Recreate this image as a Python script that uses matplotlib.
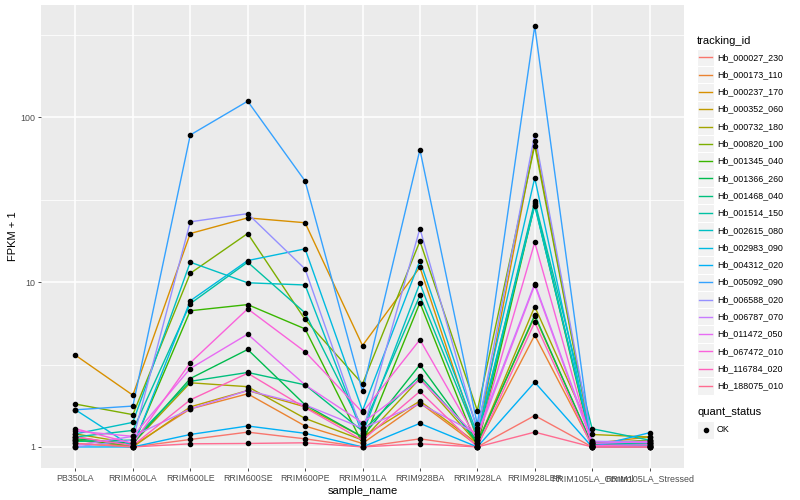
import numpy as np
import matplotlib
matplotlib.use("Agg")
import matplotlib.pyplot as plt
from matplotlib.patches import Rectangle
from matplotlib.lines import Line2D

plt.rcParams['font.family'] = ['Liberation Sans', 'DejaVu Sans']

samples = ['PB350LA', 'RRIM600LA', 'RRIM600LE', 'RRIM600SE', 'RRIM600PE',
           'RRIM901LA', 'RRIM928BA', 'RRIM928LA', 'RRIM928LER',
           'RRIM105LA_Control', 'RRIM105LA_Stressed']

tracking_ids = ['Hb_000027_230', 'Hb_000173_110', 'Hb_000237_170', 'Hb_000352_060',
                'Hb_000732_180', 'Hb_000820_100', 'Hb_001345_040', 'Hb_001366_260',
                'Hb_001468_040', 'Hb_001514_150', 'Hb_002615_080', 'Hb_002983_090',
                'Hb_004312_020', 'Hb_005092_090', 'Hb_006588_020', 'Hb_006787_070',
                'Hb_011472_050', 'Hb_067472_010', 'Hb_116784_020', 'Hb_188075_010']

# FPKM + 1, one list per gene, in sample order
hb_000027_230 = [1.10, 1.00, 1.11, 1.23, 1.12, 1.00, 1.12, 1.00, 1.55, 1.00, 1.00]
hb_000173_110 = [1.15, 1.02, 1.70, 2.10, 1.34, 1.05, 1.85, 1.02, 4.76, 1.02, 1.05]
hb_000237_170 = [3.60, 2.06, 19.7, 24.5, 22.9, 4.12, 12.3, 1.10, 71.5, 1.05, 1.15]
hb_000352_060 = [1.05, 1.00, 1.75, 2.20, 1.75, 1.15, 1.90, 1.05, 6.20, 1.03, 1.05]
hb_000732_180 = [1.20, 1.05, 2.45, 2.32, 1.49, 1.10, 2.60, 1.05, 7.10, 1.19, 1.15]
hb_000820_100 = [1.82, 1.57, 11.3, 19.7, 5.93, 2.41, 17.7, 1.66, 67.3, 1.05, 1.10]
hb_001345_040 = [1.10, 1.02, 6.70, 7.30, 5.20, 1.05, 7.50, 1.00, 29.5, 1.00, 1.00]
hb_001366_260 = [1.12, 1.05, 2.60, 3.90, 1.80, 1.15, 3.15, 1.05, 6.30, 1.03, 1.02]
hb_001468_040 = [1.08, 1.10, 2.50, 2.83, 2.38, 1.25, 2.70, 1.10, 30.0, 1.05, 1.05]
hb_001514_150 = [1.15, 1.26, 7.40, 13.2, 6.50, 1.30, 8.30, 1.15, 30.9, 1.29, 1.10]
hb_002615_080 = [1.20, 1.41, 13.2, 9.90, 9.60, 1.20, 9.84, 1.20, 29.0, 1.05, 1.03]
hb_002983_090 = [1.68, 1.00, 7.70, 13.5, 15.9, 1.66, 13.5, 1.30, 42.8, 1.02, 1.02]
hb_004312_020 = [1.00, 1.00, 1.19, 1.34, 1.21, 1.00, 1.39, 1.00, 2.47, 1.00, 1.22]
hb_005092_090 = [1.68, 1.77, 78.0, 125., 41.0, 2.17, 63.5, 1.37, 357., 1.00, 1.00]
hb_006588_020 = [1.00, 1.10, 23.2, 26.0, 12.0, 1.22, 21.1, 1.25, 78.4, 1.08, 1.08]
hb_006787_070 = [1.02, 1.16, 1.70, 2.20, 1.80, 1.30, 1.83, 1.20, 9.80, 1.08, 1.06]
hb_011472_050 = [1.25, 1.16, 2.99, 4.83, 2.38, 1.40, 2.56, 1.15, 9.60, 1.05, 1.08]
hb_067472_010 = [1.29, 1.05, 3.24, 6.88, 3.78, 1.62, 4.47, 1.10, 17.4, 1.02, 1.03]
hb_116784_020 = [1.15, 1.02, 1.93, 2.80, 1.73, 1.10, 2.17, 1.00, 5.70, 1.00, 1.00]
hb_188075_010 = [1.05, 1.00, 1.045, 1.05, 1.06, 1.00, 1.045, 1.00, 1.23, 1.00, 1.00]

series = [hb_000027_230, hb_000173_110, hb_000237_170, hb_000352_060, hb_000732_180,
          hb_000820_100, hb_001345_040, hb_001366_260, hb_001468_040, hb_001514_150,
          hb_002615_080, hb_002983_090, hb_004312_020, hb_005092_090, hb_006588_020,
          hb_006787_070, hb_011472_050, hb_067472_010, hb_116784_020, hb_188075_010]

# ggplot hue palette, 20 levels
colors = ["#F8766D", "#EA8331", "#D89000", "#C09B00", "#A3A500", "#7CAE00", "#39B600",
          "#00BB4E", "#00BF7D", "#00C1A3", "#00BFC4", "#00BAE0", "#00B0F6", "#35A2FF",
          "#9590FF", "#C77CFF", "#E76BF3", "#FA62DB", "#FF62BC", "#FF6C91"]

W, H = 800, 500
fig = plt.figure(figsize=(8, 5), dpi=100)
# panel in pixels: left 41, right 684, top 5, bottom 468
ax = fig.add_axes([41 / W, 1 - 468 / H, (684 - 41) / W, (468 - 5) / H])
ax.set_facecolor('#EBEBEB')

x = np.arange(1, len(samples) + 1)
for vals, c in zip(series, colors):
    ax.plot(x, vals, color=c, lw=1.0, zorder=3)
for vals in series:
    ax.plot(x, vals, ls='none', marker='o', ms=3.0, color='black', zorder=4)

ax.set_yscale('log')
allv = np.concatenate([np.array(s, dtype=float) for s in series])
lo, hi = np.log10(allv.min()), np.log10(allv.max())
pad = 0.05 * (hi - lo)
ax.set_ylim(10 ** (lo - pad), 10 ** (hi + pad))
ax.set_xlim(0.4, len(samples) + 0.6)

ax.set_yticks([1, 10, 100])
ax.set_yticklabels(['1', '10', '100'])
ax.set_yticks([10 ** 0.5, 10 ** 1.5, 10 ** 2.5], minor=True)
ax.yaxis.set_minor_formatter(plt.NullFormatter())
ax.set_xticks(x)
ax.set_xticklabels(samples)

ax.grid(True, which='major', color='white', lw=1.1, zorder=0)
ax.grid(True, which='minor', axis='y', color='white', lw=0.55, zorder=0)
ax.set_axisbelow(True)
for s in ax.spines.values():
    s.set_visible(False)
ax.tick_params(axis='both', which='major', length=2.2, width=0.6, color='#333333',
               labelcolor='#4D4D4D', labelsize=6.4, pad=2)
ax.tick_params(axis='y', which='minor', length=0)

ax.set_xlabel('sample_name', fontsize=8, color='black', labelpad=2)
ax.set_ylabel('FPKM + 1', fontsize=8, color='black', labelpad=1.5)

# legend drawn in figure pixel coordinates
def fx(px):
    return px / W

def fy(py):
    return 1 - py / H

fig.text(fx(697), fy(40.7), 'tracking_id', fontsize=8, va='center', ha='left')
step = 17.3
for i, (tid, c) in enumerate(zip(tracking_ids, colors)):
    cy = 57.3 + i * step
    fig.add_artist(Rectangle((fx(697), fy(cy + step / 2)), 17 / W, step / H,
                             transform=fig.transFigure, facecolor='#F2F2F2',
                             edgecolor='white', lw=0.8))
    fig.add_artist(Line2D([fx(699), fx(712)], [fy(cy), fy(cy)], color=c, lw=1.0,
                          transform=fig.transFigure))
    fig.text(fx(717), fy(cy), tid, fontsize=6.4, va='center', ha='left')

fig.text(fx(697), fy(412.3), 'quant_status', fontsize=8, va='center', ha='left')
fig.add_artist(Rectangle((fx(697), fy(430 + step / 2)), 17 / W, step / H,
                         transform=fig.transFigure, facecolor='#F2F2F2',
                         edgecolor='white', lw=0.8))
fig.add_artist(Line2D([fx(705.5)], [fy(430)], ls='none', marker='o', ms=3.0,
                      color='black', transform=fig.transFigure))
fig.text(fx(717), fy(430), 'OK', fontsize=6.4, va='center', ha='left')

fig.savefig('out.png', dpi=100, facecolor='white')
